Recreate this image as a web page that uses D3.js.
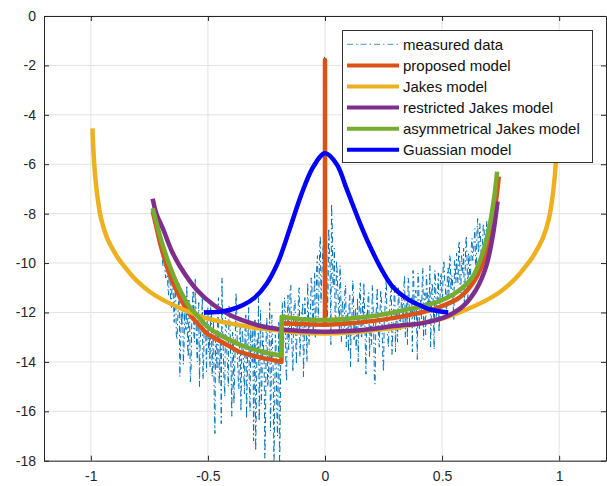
<!DOCTYPE html>
<html><head><meta charset="utf-8">
<script src="https://cdn.jsdelivr.net/npm/d3@7"></script>
<style>
body{margin:0;background:#fff}
svg{display:block}
text{font-family:Arial,"Liberation Sans",sans-serif}
</style>
</head><body>
<svg id="chart" width="607" height="486"></svg>
<script>
// ---------- tick labels ----------
const xTicks = [-1, -0.5, 0, 0.5, 1];
const xTickLabels = ["-1", "-0.5", "0", "0.5", "1"];
const yTicks = [0, -2, -4, -6, -8, -10, -12, -14, -16, -18];
const yTickLabels = ["0", "-2", "-4", "-6", "-8", "-10", "-12", "-14", "-16", "-18"];

// ---------- series names ----------
const seriesNames = ["measured data", "proposed model", "Jakes model",
  "restricted Jakes model", "asymmetrical Jakes model", "Guassian model"];

// ---------- measured data (two interleaved uniform frequency grids) ----------
const measuredStart = -0.71;
const measuredStep = 0.006;
const measuredDbA = [
  -8.7, -9.4, -9.0, -10.1, -9.6, -10.6, -10.0, -11.3, -10.4, -11.8, -10.9,
  -12.4, -11.0, -13.1, -11.7, -14.6, -12.0, -11.3, -13.4, -12.6, -10.9, -13.8, -12.2, -14.3, -11.6, -12.9, -10.6, -13.5, -12.1, -15.0, -12.7, -11.4, -13.9, -12.4, -14.4, -11.8,
  -13.0, -11.5, -14.6, -12.3, -16.9, -13.4, -11.9, -14.9, -12.8, -10.6, -13.7, -15.4, -12.5, -14.1, -11.7, -13.3, -16.2, -12.9, -14.5, -11.2, -13.8, -15.1, -12.4, -14.0,
  -13.2, -15.3, -12.1, -14.6, -11.8, -16.0, -13.5, -12.6, -14.9, -17.6, -13.1, -11.4, -14.2, -15.7, -12.8, -13.9, -16.6, -12.2, -14.7, -11.6, -15.2, -13.4, -18.5, -12.9, -15.8, -14.1, -18.8, -12.5,
  -11.6, -13.2, -12.0, -14.8, -11.3, -12.7, -10.9, -13.6, -12.2, -11.5, -14.1, -12.6, -11.0, -13.0, -12.1, -14.6, -11.4, -12.8, -10.8, -13.3,
  -11.9, -10.9, -12.7, -10.4, -11.8, -9.7, -11.2, -8.9, -10.6, -9.3, -1.6, -9.8, -12.3, -8.6, -10.2, -7.6, -11.0, -9.4, -12.6, -10.3, -11.7, -10.1, -13.2,
  -11.5, -12.8, -10.9, -12.2, -13.6, -11.3, -12.5, -10.7, -13.1, -11.8, -12.4, -14.0, -11.2, -12.9, -11.6, -10.8, -13.3, -12.0, -11.4, -13.8, -12.3, -10.9, -12.7, -14.9, -11.7, -12.2, -13.4, -11.1, -12.6, -14.4, -11.9, -10.6, -13.0, -12.1, -11.3, -13.7, -12.4, -10.9, -12.0, -13.2, -11.5, -12.7,
  -11.2, -12.4, -10.5, -11.9, -13.3, -10.8, -12.0, -11.4, -10.3, -12.6, -11.1, -13.9, -10.7, -11.8, -12.3, -10.2, -11.5, -12.9, -10.9, -11.3, -10.1, -12.2, -11.0, -13.5, -10.6, -11.7, -10.4, -12.0,
  -10.4, -11.5, -9.9, -10.9, -11.8, -10.2, -9.7, -11.1, -10.6, -12.3, -10.0,
  -9.6, -10.8, -9.1, -11.2, -10.1, -9.4, -10.7, -8.9, -11.5, -9.8, -10.3, -9.0,
  -9.7, -8.6, -10.2, -8.2, -9.3, -8.8, -9.9, -8.4, -9.1, -8.7, -9.5, -8.5
];
const measuredDbB = [
  -9.1, -8.9, -9.8, -9.3, -10.4, -9.9, -11.0, -10.2, -11.6, -10.7, -11.5,
  -11.3, -12.9, -12.3, -10.8, -13.6, -12.5, -14.1, -11.9, -12.7, -13.3, -11.5, -14.8, -12.4, -11.1, -13.2, -12.0, -14.0, -11.6, -13.1, -12.5, -14.7, -11.9, -13.0, -12.2, -13.6,
  -14.2, -12.1, -13.5, -15.6, -12.7, -14.3, -11.4, -13.9, -16.5, -12.6, -14.8, -12.2, -13.6, -15.0, -11.9, -14.4, -12.8, -15.7, -13.1, -12.0, -14.6, -13.3, -16.0, -12.7,
  -14.4, -12.4, -16.3, -13.0, -15.1, -12.7, -14.0, -17.2, -12.3, -15.5, -13.7, -16.4, -11.9, -14.8, -13.2, -17.9, -12.6, -15.0, -13.8, -16.8, -12.1, -14.5, -15.9, -13.3, -17.0, -12.4, -16.2, -12.6,
  -12.9, -11.4, -14.2, -12.5, -13.5, -11.1, -12.8, -14.4, -11.7, -13.1, -12.3, -11.2, -13.8, -12.0, -11.6, -13.4, -12.4, -14.0, -11.9, -12.5,
  -10.6, -12.1, -11.3, -13.0, -10.0, -12.2, -9.5, -11.6, -9.9, -10.8, -12.0, -9.1, -11.1, -9.6, -13.3, -8.5, -10.7, -12.1, -9.9, -11.2, -12.8, -10.9, -11.8,
  -12.9, -11.1, -13.4, -12.0, -11.6, -14.2, -12.3, -11.0, -12.8, -13.5, -11.4, -12.2, -10.8, -13.0, -12.5, -11.9, -14.5, -12.1, -11.2, -12.7, -13.3, -11.6, -14.8, -12.4, -11.0, -13.1, -12.0, -11.5, -13.9, -12.3, -11.1, -12.6, -13.4, -11.8, -10.7, -12.9, -11.4, -13.6, -12.2, -11.0, -12.5, -11.8,
  -12.0, -10.9, -13.0, -11.6, -10.6, -12.4, -11.9, -13.6, -10.7, -11.3, -12.1, -10.4, -12.7, -11.5, -10.9, -13.1, -11.2, -10.5, -12.0, -11.6, -13.4, -10.8, -11.9, -10.3, -12.4, -11.1, -12.8, -10.6,
  -11.2, -10.1, -10.7, -12.0, -10.4, -11.3, -9.8, -10.5, -11.6, -9.9, -10.8,
  -10.5, -9.3, -11.0, -9.7, -10.4, -11.7, -9.2, -10.1, -9.6, -10.9, -9.3, -9.9,
  -9.0, -10.0, -8.7, -9.6, -8.4, -9.8, -9.2, -8.6, -9.4, -8.3, -9.0, -8.8
];

// ---------- proposed model ----------
const proposedF = [-0.736, -0.72, -0.704, -0.662, -0.619, -0.576, -0.548, -0.505, -0.477, -0.406, -0.364, -0.335, -0.264, -0.186,
  -0.185, -0.1, -0.0002, 0, 0.0002, 0.1, 0.2, 0.276, 0.35, 0.418, 0.489, 0.574, 0.638, 0.681, 0.709, 0.73, 0.742];
const proposedDb = [-7.9, -8.55, -9.2, -10.5, -11.4, -12.1, -12.4, -12.85, -13.0, -13.38, -13.6, -13.68, -13.85, -14.0,
  -12.44, -12.47, -12.5, -1.78, -12.5, -12.45, -12.35, -12.25, -12.12, -11.98, -11.78, -11.4, -10.72, -9.8, -8.7, -7.5, -6.5];

// ---------- Jakes model ----------
const jakesF = [-0.993, -0.989, -0.982, -0.972, -0.955, -0.932, -0.903, -0.88, -0.86, -0.83, -0.8, -0.75, -0.7, -0.6, -0.5, -0.4, -0.3, -0.2, -0.1, 0,
  0.1, 0.2, 0.3, 0.4, 0.5, 0.6, 0.7, 0.75, 0.8, 0.83, 0.86, 0.88, 0.903, 0.932, 0.955, 0.972, 0.982, 0.989, 0.993];
const jakesDb = [-4.55, -5.45, -6.4, -7.3, -8.25, -8.95, -9.5, -9.85, -10.1, -10.45, -10.75, -11.15, -11.45, -11.9, -12.25, -12.45, -12.62, -12.72, -12.82, -12.85,
  -12.82, -12.72, -12.62, -12.45, -12.25, -11.9, -11.45, -11.15, -10.75, -10.45, -10.1, -9.85, -9.5, -8.95, -8.25, -7.3, -6.4, -5.45, -4.55];

// ---------- restricted Jakes model ----------
const restrictedF = [-0.736, -0.72, -0.69, -0.655, -0.619, -0.548, -0.477, -0.406, -0.335, -0.264, -0.193, -0.1, 0,
  0.1, 0.2, 0.276, 0.35, 0.418, 0.517, 0.588, 0.645, 0.688, 0.716, 0.737];
const restrictedDb = [-7.4, -8.0, -8.66, -9.5, -10.14, -11.08, -11.69, -12.1, -12.37, -12.57, -12.68, -12.75, -12.78,
  -12.75, -12.67, -12.57, -12.5, -12.43, -12.17, -11.76, -11.08, -10.14, -8.93, -7.51];

// ---------- asymmetrical Jakes model ----------
const asymF = [-0.736, -0.72, -0.704, -0.662, -0.619, -0.576, -0.548, -0.505, -0.477, -0.406, -0.364, -0.335, -0.264, -0.186,
  -0.185, -0.1, 0, 0.1, 0.2, 0.276, 0.35, 0.418, 0.489, 0.56, 0.631, 0.673, 0.702, 0.723, 0.735];
const asymDb = [-7.78, -8.35, -8.93, -10.14, -11.1, -11.8, -12.1, -12.55, -12.75, -13.12, -13.3, -13.4, -13.6, -13.75,
  -12.17, -12.27, -12.3, -12.25, -12.15, -12.03, -11.88, -11.74, -11.54, -11.2, -10.55, -9.6, -8.52, -7.31, -6.3];

// ---------- Gaussian model ----------
const gaussF = [-0.517, -0.45, -0.4, -0.35, -0.3, -0.25, -0.2, -0.15, -0.1, -0.05, 0,
  0.05, 0.094, 0.15, 0.193, 0.25, 0.293, 0.36, 0.404, 0.45, 0.526];
const gaussDb = [-12.0, -11.97, -11.88, -11.7, -11.4, -10.85, -9.95, -8.6, -7.2, -6.1, -5.56,
  -6.0, -7.04, -8.4, -9.34, -10.4, -11.0, -11.5, -11.7, -11.88, -12.0];

// ---------- layout ----------
const svg = d3.select("#chart");
const L = 44, R = 606, T = 16, B = 460.7;
const x = d3.scaleLinear().domain([-1.2, 1.2]).range([L, R]);
const y = d3.scaleLinear().domain([-18, 0]).range([B, T]);
const axisColor = "#262626";
const colors = ["#0072BD", "#D95319", "#EDB120", "#7E2F8E", "#77AC30", "#0000FF"];

// grid
const grid = svg.append("g");
grid.selectAll("line.gx").data(xTicks).join("line")
  .attr("x1", d => x(d)).attr("x2", d => x(d)).attr("y1", T).attr("y2", B)
  .attr("stroke", "#e2e2e2").attr("stroke-width", 1);
grid.selectAll("line.gy").data(yTicks).join("line")
  .attr("y1", d => y(d)).attr("y2", d => y(d)).attr("x1", L).attr("x2", R)
  .attr("stroke", "#e2e2e2").attr("stroke-width", 1);

// clip
svg.append("clipPath").attr("id", "clip").append("rect")
  .attr("x", L).attr("y", T).attr("width", R - L).attr("height", B - T);
const plot = svg.append("g").attr("clip-path", "url(#clip)");

const smoothGen = d3.line().x(d => x(d[0])).y(d => y(d[1])).curve(d3.curveCatmullRom.alpha(0.5));
const linGen = d3.line().x(d => x(d[0])).y(d => y(d[1]));

// measured data
const measured = [];
measuredDbA.forEach((v, i) => {
  measured.push([measuredStart + i * measuredStep, v]);
  if (i < measuredDbB.length) measured.push([measuredStart + measuredStep / 2 + i * measuredStep, measuredDbB[i]]);
});
plot.append("path").datum(measured).attr("d", linGen)
  .attr("fill", "none").attr("stroke", colors[0]).attr("stroke-width", 1)
  .attr("stroke-dasharray", "6,3,1.5,3");

// model path: smooth pieces joined by straight jumps where frequency steps are tiny
function modelPath(fs, vs) {
  const pts = fs.map((f, i) => [f, vs[i]]);
  const segs = [[pts[0]]];
  for (let i = 1; i < pts.length; i++) {
    if (pts[i][0] - pts[i - 1][0] < 0.002) segs.push([pts[i]]);
    else segs[segs.length - 1].push(pts[i]);
  }
  let d = "";
  segs.forEach((s, k) => {
    let p = s.length > 1 ? smoothGen(s) : `M${x(s[0][0])},${y(s[0][1])}`;
    if (k > 0) p = "L" + p.slice(1);
    d += p;
  });
  return d;
}
const models = [
  [proposedF, proposedDb, colors[1]],
  [jakesF, jakesDb, colors[2]],
  [restrictedF, restrictedDb, colors[3]],
  [asymF, asymDb, colors[4]],
  [gaussF, gaussDb, colors[5]]
];
models.forEach(([fs, vs, c]) => {
  plot.append("path").attr("d", modelPath(fs, vs))
    .attr("fill", "none").attr("stroke", c).attr("stroke-width", 4.5)
    .attr("stroke-linejoin", "round");
});

// axes
const fmtX = d => xTickLabels[xTicks.indexOf(d)];
const fmtY = d => yTickLabels[yTicks.indexOf(d)];
const styleAxis = g => {
  g.selectAll("path.domain").attr("stroke", axisColor).attr("stroke-width", 1);
  g.selectAll(".tick line").attr("stroke", axisColor);
  g.selectAll(".tick text").attr("fill", axisColor).attr("font-size", 14)
    .attr("font-family", "Arial, 'Liberation Sans', sans-serif");
};
svg.append("g").attr("transform", `translate(0,${B})`)
  .call(d3.axisBottom(x).tickValues(xTicks).tickFormat(fmtX).tickSizeInner(-5).tickSizeOuter(0).tickPadding(10))
  .call(styleAxis);
svg.append("g").attr("transform", `translate(0,${T})`)
  .call(d3.axisTop(x).tickValues(xTicks).tickFormat("").tickSizeInner(-5).tickSizeOuter(0))
  .call(styleAxis);
svg.append("g").attr("transform", `translate(${L},0)`)
  .call(d3.axisLeft(y).tickValues(yTicks).tickFormat(fmtY).tickSizeInner(-5).tickSizeOuter(0).tickPadding(8))
  .call(styleAxis);
svg.append("g").attr("transform", `translate(${R},0)`)
  .call(d3.axisRight(y).tickValues(yTicks).tickFormat("").tickSizeInner(-5).tickSizeOuter(0))
  .call(styleAxis);

// legend
const lg = svg.append("g");
lg.append("rect").attr("x", 342.5).attr("y", 30.5).attr("width", 250).attr("height", 132)
  .attr("fill", "#fff").attr("stroke", "#333").attr("stroke-width", 1);
const rowY = i => 44.3 + i * 21.1;
seriesNames.forEach((name, i) => {
  const ln = lg.append("line").attr("x1", 347).attr("x2", 399).attr("y1", rowY(i)).attr("y2", rowY(i))
    .attr("stroke", colors[i]);
  if (i === 0) ln.attr("stroke-width", 1).attr("stroke-dasharray", "6,3,1.5,3").attr("opacity", 0.75);
  else ln.attr("stroke-width", 4);
  lg.append("text").attr("x", 403).attr("y", rowY(i)).attr("dy", "0.35em")
    .attr("font-size", 15).attr("fill", "#111").text(name);
});
</script>
</body></html>
